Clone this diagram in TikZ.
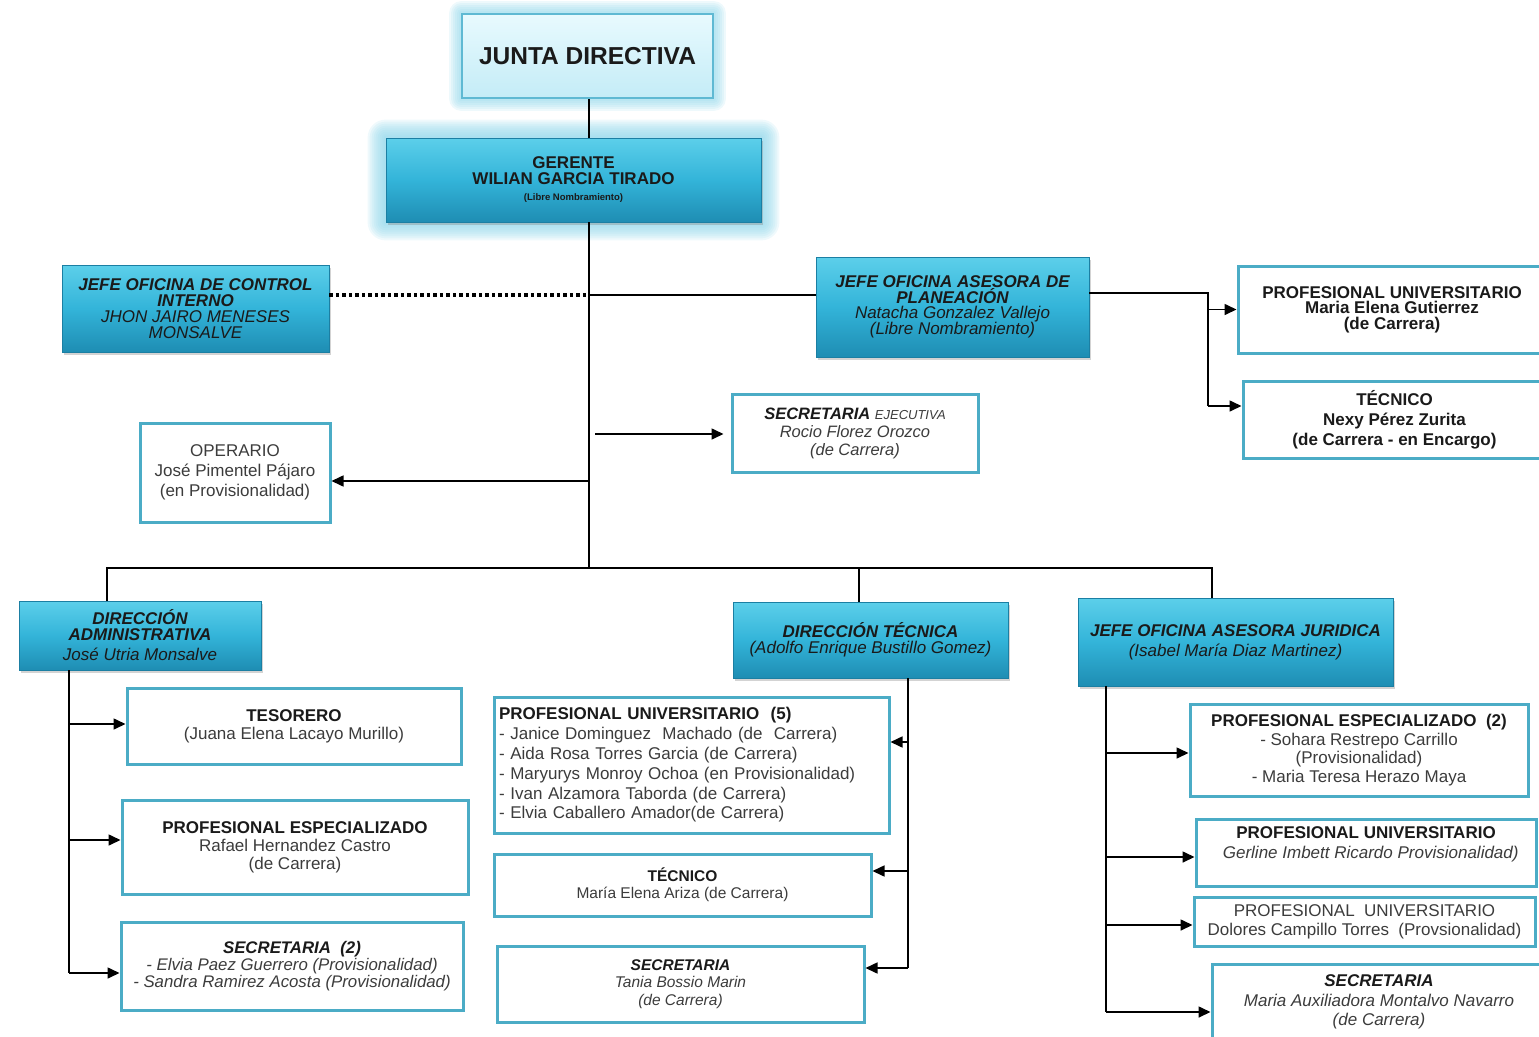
\documentclass[tikz,border=0pt]{standalone}
\usepackage{fontspec}
\setmainfont{Liberation Sans}
\usetikzlibrary{shadows,arrows.meta,backgrounds}
\definecolor{bevtop}{HTML}{5CCFEA}
\definecolor{bevmid}{HTML}{33B4D9}
\definecolor{bevbot}{HTML}{1E8DB3}
\definecolor{bevline}{HTML}{1B7FA3}
\definecolor{boxline}{HTML}{4BACC6}
\definecolor{juntatop}{HTML}{E8FAFE}
\definecolor{juntabot}{HTML}{C4ECF7}
\definecolor{junline}{HTML}{5FB9D3}
\definecolor{glowc}{HTML}{8ED6EA}
\definecolor{txtdark}{HTML}{1A1A1A}
\definecolor{txtgray}{HTML}{3C3C3C}

\begin{document}
\begin{tikzpicture}[x=1pt,y=1pt]
    \tikzstyle{every node}+=[inner sep=0pt, align=center]
    \tikzstyle{bevel}=[draw=bevline, line width=0.8pt, top color=bevtop, bottom color=bevbot, middle color=bevmid, text=txtdark, drop shadow={shadow xshift=2pt, shadow yshift=-3pt, opacity=0.35}]
    \tikzstyle{cargo}=[draw=boxline, line width=3pt, fill=white, text=txtgray]
    \tikzstyle{link}=[line width=1.6pt]
    \tikzstyle{arr}=[link, -{Triangle[length=12pt,width=11pt]}]
    \useasboundingbox (0,0) rectangle (1539,-1036);
    % top of the chart
    \node [draw=junline, line width=1.8pt, top color=juntatop, bottom color=juntabot, minimum width=251pt, minimum height=84pt, font=\fontsize{24.5}{26}\selectfont\bfseries, text=txtdark] (junta) at (587.5,-56) {JUNTA DIRECTIVA};
    \node [bevel, minimum width=375pt, minimum height=84pt, font=\fontsize{17}{16}\selectfont\bfseries] (gerente) at (573.5,-180) {GERENTE\\WILIAN GARCIA TIRADO\\{\fontsize{9.5}{16}\selectfont (Libre Nombramiento)}};
    \node [bevel, minimum width=267pt, minimum height=87pt, font=\fontsize{17}{16}\selectfont] (control) at (195.5,-308.5) {{\bfseries\itshape JEFE OFICINA DE CONTROL}\\{\bfseries\itshape INTERNO}\\{\itshape JHON JAIRO MENESES}\\{\itshape MONSALVE}};
    \node [bevel, minimum width=273pt, minimum height=100pt, font=\fontsize{17}{14.5}\selectfont] (planea) at (952.5,-307) {{\bfseries\itshape JEFE OFICINA ASESORA DE}\\{\bfseries\itshape PLANEACIÓN}\\{\itshape Natacha Gonzalez Vallejo}\\{\itshape (Libre Nombramiento)}};
    \node [cargo, minimum width=308pt, minimum height=87pt, font=\fontsize{17}{15.5}\selectfont\bfseries, text=txtdark] (profu1) at (1392,-309.5) {PROFESIONAL UNIVERSITARIO\\Maria Elena Gutierrez\\(de Carrera)};
    \node [cargo, minimum width=303pt, minimum height=77pt, font=\fontsize{17}{20}\selectfont\bfseries, text=txtdark] (tec1) at (1394.5,-419.5) {TÉCNICO\\Nexy Pérez Zurita\\(de Carrera - en Encargo)};
    \node [cargo, minimum width=246pt, minimum height=78pt, font=\fontsize{16.5}{18}\selectfont] (secej) at (855,-433) {{\bfseries\itshape\color{txtdark} SECRETARIA} {\itshape\fontsize{13}{18}\selectfont EJECUTIVA}\\{\itshape Rocio Florez Orozco}\\{\itshape (de Carrera)}};
    \node [cargo, minimum width=190pt, minimum height=99pt, font=\fontsize{17}{20}\selectfont] (operario) at (235,-472.5) {OPERARIO\\José Pimentel Pájaro\\(en Provisionalidad)};
    % direcciones
    \node [bevel, minimum width=242pt, minimum height=69pt, font=\fontsize{17}{16}\selectfont] (diradm) at (140,-635.5) {{\bfseries\itshape DIRECCIÓN}\\{\bfseries\itshape ADMINISTRATIVA}\\[4pt]{\itshape José Utria Monsalve}};
    \node [bevel, minimum width=275pt, minimum height=76pt, font=\fontsize{17}{15.5}\selectfont] (dirtec) at (870.5,-640) {{\bfseries\itshape DIRECCIÓN TÉCNICA}\\{\itshape (Adolfo Enrique Bustillo Gomez)}};
    \node [bevel, minimum width=315pt, minimum height=88pt, font=\fontsize{17}{20}\selectfont] (jur) at (1235.5,-642) {{\bfseries\itshape JEFE OFICINA ASESORA JURIDICA}\\{\itshape (Isabel María Diaz Martinez)}};
    % administrativa
    \node [cargo, minimum width=334pt, minimum height=76pt, font=\fontsize{17}{18}\selectfont] (tes) at (294,-726) {{\bfseries\color{txtdark} TESORERO}\\(Juana Elena Lacayo Murillo)};
    \node [cargo, minimum width=346pt, minimum height=94pt, font=\fontsize{17}{18}\selectfont] (pel) at (295,-847) {{\bfseries\color{txtdark} PROFESIONAL ESPECIALIZADO}\\Rafael Hernandez Castro\\(de Carrera)};
    \node [cargo, minimum width=342pt, minimum height=88pt, font=\fontsize{16.8}{17}\selectfont] (sec2) at (292,-966) {{\bfseries\itshape\color{txtdark} SECRETARIA~~(2)}\\{\itshape - Elvia Paez Guerrero (Provisionalidad)}\\{\itshape - Sandra Ramirez Acosta (Provisionalidad)}};
    % tecnica
    \node [cargo, minimum width=395pt, minimum height=136pt, text width=385pt, align=left, font=\fontsize{17}{19.8}\selectfont] (pu5) at (691.5,-765) {{\bfseries\color{txtdark} PROFESIONAL UNIVERSITARIO~~(5)}\\- Janice Dominguez~ Machado (de~ Carrera)\\- Aida Rosa Torres Garcia (de Carrera)\\- Maryurys Monroy Ochoa (en Provisionalidad)\\- Ivan Alzamora Taborda (de Carrera)\\- Elvia Caballero Amador(de Carrera)};
    \node [cargo, minimum width=377pt, minimum height=62pt, font=\fontsize{15.5}{17}\selectfont] (tec2) at (682.5,-885) {{\bfseries\color{txtdark} TÉCNICO}\\María Elena Ariza (de Carrera)};
    \node [cargo, minimum width=367pt, minimum height=76pt, font=\fontsize{15.5}{17.5}\selectfont] (sec3) at (680.5,-984) {{\bfseries\itshape\color{txtdark} SECRETARIA}\\{\itshape Tania Bossio Marin}\\{\itshape (de Carrera)}};
    % juridica
    \node [cargo, minimum width=338pt, minimum height=92pt, font=\fontsize{17}{18.5}\selectfont] (pe2) at (1359,-750) {{\bfseries\color{txtdark} PROFESIONAL ESPECIALIZADO~~(2)}\\- Sohara Restrepo Carrillo\\(Provisionalidad)\\- Maria Teresa Herazo Maya};
    \node [cargo, minimum width=340pt, minimum height=67pt, font=\fontsize{17}{20}\selectfont] (pug) at (1366,-852.5) {{\bfseries\color{txtdark} PROFESIONAL UNIVERSITARIO}\\~~{\itshape Gerline Imbett Ricardo Provisionalidad)}\\\mbox{}};
    \node [cargo, minimum width=341pt, minimum height=49pt, font=\fontsize{17}{19}\selectfont] (pud) at (1364.5,-921.5) {PROFESIONAL~ UNIVERSITARIO\\Dolores Campillo Torres~ (Provsionalidad)};
    \node [cargo, minimum width=334pt, minimum height=76pt, font=\fontsize{17}{19.5}\selectfont] (sec4) at (1379,-1002) {{\bfseries\itshape\color{txtdark} SECRETARIA}\\{\itshape Maria Auxiliadora Montalvo Navarro}\\{\itshape (de Carrera)}};
    % glow round the top boxes
    \begin{scope}[on background layer]
    \foreach \g in {2,4,...,18}
      \fill [glowc, opacity=0.14, rounded corners=\g pt] ([shift={(-\g pt,\g pt)}]gerente.north west) rectangle ([shift={(\g pt,-\g pt)}]gerente.south east);
    \foreach \g in {2,4,...,12}
      \fill [glowc, opacity=0.15, rounded corners=\g pt] ([shift={(-\g pt,\g pt)}]junta.north west) rectangle ([shift={(\g pt,-\g pt)}]junta.south east);
    \end{scope}
    % connectors
    \coordinate (cj) at (589,-295);
    \coordinate (bl) at (107,-568);
    \coordinate (bc) at (859,-568);
    \coordinate (br) at (1212,-568);
    \draw [link] (junta.south -| cj) -- (gerente.north -| cj);
    \draw [link] (gerente.south -| cj) -- (cj |- bl);
    \draw [line width=3.5pt, dash pattern=on 3.5pt off 3pt] (control.east |- cj) -- (cj);
    \draw [link] (cj) -- (cj -| planea.west);
    \coordinate (pr) at (1208,-293);
    \coordinate (pt) at (1208,-406);
    \draw [link] (pr -| planea.east) -- (pr) -- (pt);
    \draw [arr] (pr |- profu1.west) -- (profu1.west);
    \draw [arr] (pt) -- (pt -| tec1.west);
    \coordinate (se) at (595,-434);
    \draw [arr, shorten >=7pt] (se) -- (se -| secej.west);
    \coordinate (op) at (589,-481);
    \draw [arr] (op) -- (op -| operario.east);
    \draw [link] (bl |- diradm.north) -- (bl) -- (br) -- (br |- jur.north);
    \draw [link] (bc) -- (bc |- dirtec.north);
    % administrativa
    \coordinate (a1) at (69,-724);
    \coordinate (a2) at (69,-840);
    \coordinate (a3) at (69,-973);
    \draw [link] (diradm.south -| a1) -- (a3);
    \draw [arr] (a1) -- (a1 -| tes.west);
    \draw [arr] (a2) -- (a2 -| pel.west);
    \draw [arr] (a3) -- (a3 -| sec2.west);
    % tecnica
    \coordinate (t1) at (908,-742);
    \coordinate (t2) at (908,-871);
    \coordinate (t3) at (908,-968);
    \draw [link] (dirtec.south -| t1) -- (t3);
    \draw [arr] (t1) -- (t1 -| pu5.east);
    \draw [arr] (t2) -- (t2 -| tec2.east);
    \draw [arr] (t3) -- (t3 -| sec3.east);
    % juridica
    \coordinate (j1) at (1106,-753);
    \coordinate (j2) at (1106,-857);
    \coordinate (j3) at (1106,-925);
    \coordinate (j4) at (1106,-1012);
    \draw [link] (jur.south -| j1) -- (j4);
    \draw [arr] (j1) -- (j1 -| pe2.west);
    \draw [arr] (j2) -- (j2 -| pug.west);
    \draw [arr] (j3) -- (j3 -| pud.west);
    \draw [arr] (j4) -- (j4 -| sec4.west);
\end{tikzpicture}
\end{document}
